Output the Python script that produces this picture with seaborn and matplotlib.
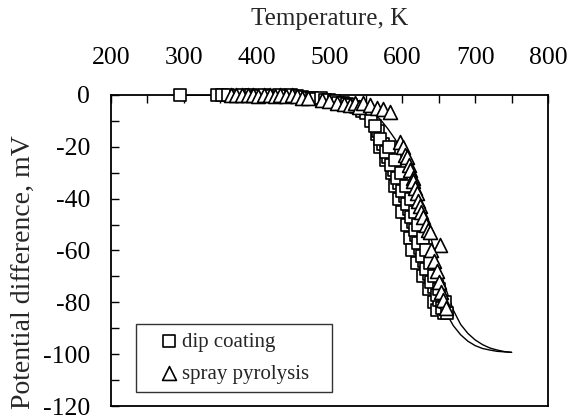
import matplotlib
matplotlib.use("Agg")
import matplotlib.pyplot as plt
from matplotlib.ticker import MultipleLocator
import seaborn as sns
import pandas as pd

sns.set_style("ticks")
plt.rcParams['font.family'] = ['Liberation Serif', 'DejaVu Serif']
plt.rcParams['axes.unicode_minus'] = False

# dip coating measurements (temperature K, potential difference mV)
dip_T = [295, 345, 352, 360, 372, 380, 392, 400, 410, 420, 430, 440, 447, 455, 462,
         470, 476, 482, 488, 494, 500, 506, 512, 518, 524, 530, 536, 540, 545, 550,
         # steep part, left edge of the band
         557, 565, 570, 578, 586, 590, 595, 600, 606, 610, 613, 620, 628, 636, 643, 648,
         566, 573, 581, 589, 596, 603, 609, 614, 619, 624, 630, 636, 643, 650, 657,
         # middle of the band
         562, 570, 577, 585, 592, 600, 606, 612, 617, 622, 627, 633, 640, 647, 654,
         # right edge of the band
         582, 590, 598, 605, 612, 617, 622, 628, 633, 638, 643, 650, 658, 662]
dip_V = [0, 0, 0, 0, -0.3, 0, 0, -0.3, 0, -0.2, 0, -0.3, 0, -0.5, -0.8,
         -1, -1, -1.5, -1.2, -2, -2, -2.5, -3, -3, -3.5, -4, -4.5, -5, -6, -7,
         -10, -15, -20, -25, -30, -35, -40, -45, -50, -55, -60, -65, -70, -75, -80, -83,
         -14, -19, -24, -29, -34, -39, -44, -49, -54, -59, -64, -69, -74, -79, -84,
         -12, -17, -22, -27, -32, -37, -42, -47, -52, -57, -62, -67, -72, -77, -82,
         -20, -25, -30, -35, -40, -45, -50, -55, -60, -65, -70, -75, -80, -84]

# spray pyrolysis measurements
spray_T = [365, 372, 380, 388, 395, 402, 410, 418, 425, 432, 440, 448, 455, 462, 470,
           490, 500, 510, 520, 528, 535, 540, 546, 556, 565, 574, 583,
           597, 601, 603, 606, 609, 611, 614, 615, 618, 620, 622, 624, 626, 629,
           632, 635, 638, 652, 640, 644, 647, 650, 653, 656, 660]
spray_V = [0, 0, 0, 0, 0, -0.3, 0, 0, -0.3, 0, -0.5, 0, -0.5, -1, -1,
           -2, -2.5, -3, -3.5, -4, -3, -4.5, -3, -4, -5, -5.5, -6.5,
           -18, -20, -23, -24, -27, -29, -32, -33, -36, -38, -41, -43, -45, -47,
           -50, -52, -53, -58, -60, -64, -68, -72, -76, -79, -82]

# fitted curves
curve_T = [300, 400, 450, 500, 530, 550, 560, 570, 580, 590, 600, 610, 620, 630, 640,
           650, 660, 670, 680, 690, 700, 710, 720, 730, 740, 750]
dip_fit = [0, -0.2, -0.5, -1.5, -3, -7, -11, -16, -23, -30, -37, -45, -54, -63, -71,
           -78, -84, -89, -92.5, -95, -96.7, -97.8, -98.4, -98.9, -99.1, -99.3]
spray_fit = [0, -0.2, -0.6, -1.8, -3.5, -5, -7, -9.5, -13, -17, -22, -29, -37, -46, -56,
             -66, -75, -83, -88.5, -92, -94.5, -96.3, -97.6, -98.4, -99, -99.3]

dip = pd.DataFrame({'T': dip_T, 'V': dip_V})
spray = pd.DataFrame({'T': spray_T, 'V': spray_V})
fits = pd.DataFrame({'T': curve_T, 'dip': dip_fit, 'spray': spray_fit})

fig = plt.figure(figsize=(5.68, 4.19), dpi=100)
ax = fig.add_axes([0.1954, 0.031, 0.7694, 0.7423])

sns.lineplot(data=fits, x='T', y='dip', ax=ax, color='black', lw=1.0)
sns.lineplot(data=fits, x='T', y='spray', ax=ax, color='black', lw=1.0)
sns.scatterplot(data=dip, x='T', y='V', ax=ax, marker='s', s=75,
                facecolor='white', edgecolor='black', linewidth=1.2,
                label='dip coating', zorder=3, clip_on=False)
sns.scatterplot(data=spray, x='T', y='V', ax=ax, marker='^', s=100,
                facecolor='white', edgecolor='black', linewidth=1.2,
                label='spray pyrolysis', zorder=3, clip_on=False)

ax.set_xlim(200, 800)
ax.set_ylim(-120, 0)
ax.xaxis.tick_top()
ax.xaxis.set_label_position('top')
ax.xaxis.set_major_locator(MultipleLocator(100))
ax.xaxis.set_minor_locator(MultipleLocator(50))
ax.yaxis.set_major_locator(MultipleLocator(20))
ax.yaxis.set_minor_locator(MultipleLocator(10))
ax.tick_params(axis='both', which='both', direction='in', length=6,
               width=1.0, color='black', labelsize=18.5, labelcolor='black')
ax.tick_params(axis='x', which='major', pad=19)
ax.tick_params(axis='y', which='major', pad=15)
ax.set_xlabel('Temperature, K', fontsize=18)
ax.set_ylabel('Potential difference, mV', fontsize=20)
ax.xaxis.set_label_coords(0.501, 1.225)
ax.yaxis.set_label_coords(-0.172, 0.43)
for sp in ax.spines.values():
    sp.set_color('black')
    sp.set_linewidth(1.3)

leg = ax.legend(loc='lower left', bbox_to_anchor=(0.057, 0.045, 0.4485, 0.225),
                mode='expand', borderaxespad=0, fontsize=15,
                frameon=True, fancybox=False, edgecolor='black',
                handlelength=2.4, handletextpad=-0.6, borderpad=0.4,
                labelspacing=0.6)
leg.get_frame().set_linewidth(1.0)

fig.savefig('out.png', dpi=100)
plt.close(fig)
